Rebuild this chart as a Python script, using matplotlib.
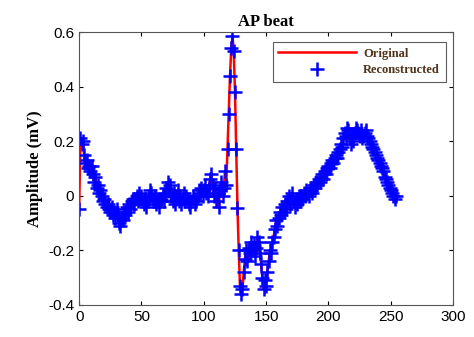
import matplotlib
matplotlib.use("Agg")
import matplotlib.pyplot as plt
import numpy as np

# AP beat samples (mV), one value per sample index
original = [
    -0.05, 0.21, 0.19, 0.20, 0.15, 0.12, 0.13, 0.10, 0.11, 0.09,
    0.11, 0.08, 0.05, 0.07, 0.03, 0.04, 0.01, 0.02, 0.00, -0.02,
    -0.01, -0.03, -0.04, -0.03, -0.05, -0.06, -0.04, -0.07, -0.06, -0.08,
    -0.05, -0.07, -0.10, -0.11, -0.08, -0.09, -0.06, -0.07, -0.04, -0.06,
    -0.03, -0.05, -0.02, -0.01, -0.03, -0.01, 0.00, -0.02, 0.01, -0.01,
    0.00, -0.02, -0.03, -0.01, -0.04, -0.02, 0.00, 0.02, 0.01, -0.01,
    -0.02, 0.00, -0.03, -0.01, -0.04, -0.02, -0.01, 0.00, -0.02, 0.01,
    0.03, 0.05, 0.02, 0.04, 0.00, -0.02, 0.01, -0.03, -0.01, 0.02,
    -0.02, 0.00, -0.03, -0.01, 0.01, -0.02, 0.00, -0.01, -0.03, -0.04,
    -0.02, 0.00, -0.01, -0.03, -0.02, 0.00, 0.02, 0.01, 0.03, 0.00,
    0.02, 0.04, 0.01, 0.00, 0.03, 0.06, 0.08, 0.04, 0.00, 0.03,
    -0.02, 0.01, -0.04, 0.02, 0.05, 0.00, 0.03, 0.09, 0.04, 0.17,
    0.30, 0.44, 0.54, 0.585, 0.53, 0.38, 0.17, -0.045, -0.20, -0.33,
    -0.36, -0.34, -0.28, -0.23, -0.20, -0.24, -0.19, -0.21, -0.17, -0.20,
    -0.18, -0.22, -0.19, -0.15, -0.17, -0.21, -0.25, -0.30, -0.34, -0.31,
    -0.33, -0.28, -0.24, -0.20, -0.21, -0.17, -0.15, -0.12, -0.09, -0.11,
    -0.08, -0.06, -0.07, -0.04, -0.06, -0.03, -0.05, -0.02, 0.00, -0.03,
    -0.01, 0.01, -0.02, -0.04, -0.01, -0.03, 0.00, -0.02, 0.00, -0.01,
    0.01, 0.00, 0.02, 0.01, 0.00, 0.02, 0.03, 0.01, 0.04, 0.03,
    0.05, 0.04, 0.06, 0.05, 0.07, 0.08, 0.06, 0.09, 0.08, 0.10,
    0.11, 0.10, 0.12, 0.13, 0.12, 0.14, 0.15, 0.14, 0.16, 0.17,
    0.19, 0.18, 0.21, 0.23, 0.22, 0.25, 0.24, 0.21, 0.19, 0.22,
    0.20, 0.23, 0.25, 0.24, 0.23, 0.22, 0.24, 0.21, 0.22, 0.23,
    0.24, 0.22, 0.21, 0.20, 0.19, 0.18, 0.17, 0.16, 0.15, 0.14,
    0.13, 0.12, 0.11, 0.10, 0.09, 0.07, 0.06, 0.05, 0.04, 0.03,
    0.02, 0.01, 0.00, -0.01, 0.00,
]
reconstructed = list(original)
samples = np.arange(len(original))

serif = ['Liberation Serif', 'DejaVu Serif']
sans = ['Liberation Sans', 'DejaVu Sans']

fig = plt.figure(figsize=(4.74, 3.37), dpi=100)
ax = fig.add_axes([0.167, 0.095, 0.789, 0.81])

ax.plot(samples, original, color='red', lw=1.8, label='Original')
ax.plot(samples, reconstructed, ls='none', marker='+', ms=10, mew=1.8,
        color='blue', label='Reconstructed')

ax.set_xlim(0, 300)
ax.set_ylim(-0.4, 0.6)
ax.set_xticks([0, 50, 100, 150, 200, 250, 300])
ax.set_yticks([-0.4, -0.2, 0, 0.2, 0.4, 0.6])
ax.set_yticklabels(['-0.4', '-0.2', '0', '0.2', '0.4', '0.6'])
ax.tick_params(direction='in', top=True, right=True, length=3, labelsize=11)
for lab in ax.get_xticklabels() + ax.get_yticklabels():
    lab.set_family(sans)
for s in ax.spines.values():
    s.set_color('#555555')

ax.set_title('AP beat', fontsize=12, fontweight='bold', family=serif, pad=4)
ax.set_ylabel('Amplitude (mV)', fontsize=12, fontweight='bold', family=serif)

leg = ax.legend(loc='upper right', bbox_to_anchor=(0.98, 0.963),
                borderaxespad=0,
                prop={'family': serif, 'weight': 'bold', 'size': 9},
                fancybox=False, edgecolor='#333333', handlelength=6.2,
                borderpad=0.45, labelspacing=0.35, handletextpad=0.6)
leg.get_frame().set_linewidth(0.8)
for t in leg.get_texts():
    t.set_color('#4d3319')

fig.savefig('out.png', dpi=100)
